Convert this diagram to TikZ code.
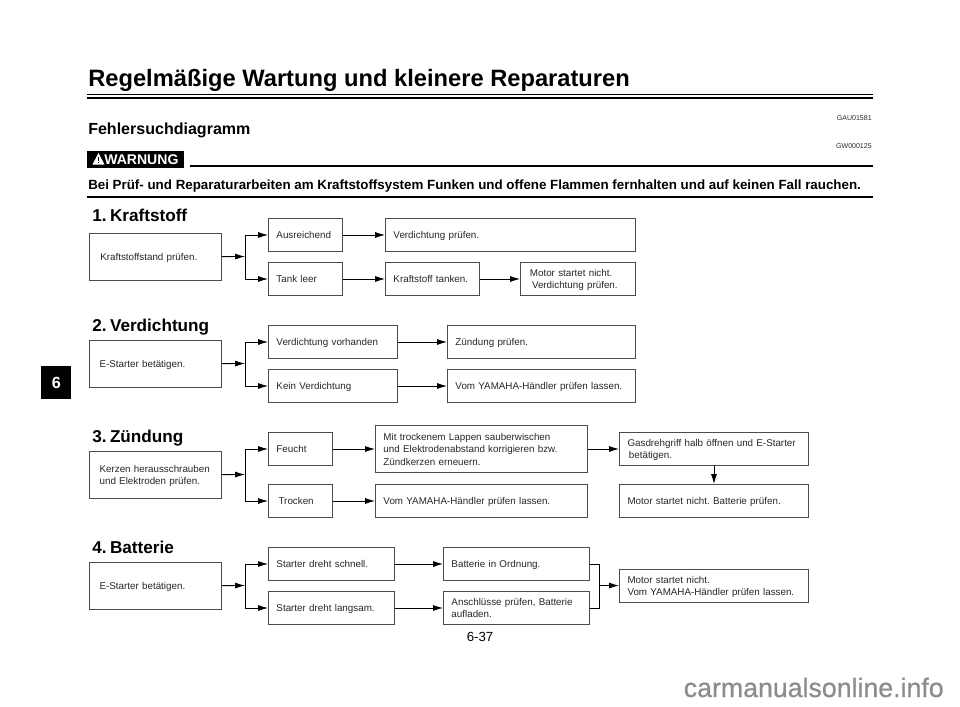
\documentclass[tikz,border=0pt]{standalone}
\usepackage{fontspec}
\setmainfont{Liberation Sans}
\newfontfamily\markfont[FakeBold=0.7]{Liberation Sans}
\usetikzlibrary{arrows.meta}
\definecolor{boxgray}{rgb}{0.3,0.3,0.3}
\definecolor{textgray}{rgb}{0.15,0.15,0.15}
\definecolor{markgray}{rgb}{0.55,0.55,0.55}
\newcommand{\boxfont}{\fontsize{6.98}{8.9}\selectfont\frenchspacing}
\tikzset{
  flowbox/.style 2 args={draw=boxgray,line width=0.7pt,anchor=north west,align=left,inner ysep=0pt,inner xsep=8*0.025cm,
    minimum height=#2*0.025cm,text width=#1*0.025cm-16*0.025cm,font=\boxfont,text=textgray,
    execute at begin node={\rule{0pt}{7.2pt}},execute at end node={\rule[-2.2pt]{0pt}{2.2pt}}},
  flowline/.style={line width=0.6pt,-{Latex[length=7pt,width=4.2pt]}},
  plainline/.style={line width=0.6pt},
  heading/.style={anchor=base west,inner sep=0pt,font=\bfseries\fontsize{12.2}{14}\selectfont},
  smallcode/.style={anchor=base east,inner sep=0pt,font=\fontsize{5}{6}\selectfont,text=textgray}
}
\begin{document}
\begin{tikzpicture}[line cap=butt,line join=miter,x=0.025cm,y=-0.025cm]
\useasboundingbox (0,0) rectangle (960,706);
\node (title) [anchor=base west,inner sep=0pt,font=\bfseries\fontsize{16.85}{18}\selectfont] at (88,86.5) {Regelmäßige Wartung und kleinere Reparaturen};
\coordinate (rulea) at (87,94);
\coordinate (ruleb) at (873,94);
\coordinate (rulec) at (87,98);
\coordinate (ruled) at (873,98);
\draw [line width=0.4pt] (rulea) -- (ruleb);
\draw [line width=1.1pt] (rulec) -- (ruled);
\node (sub) [anchor=base west,inner sep=0pt,font=\bfseries\fontsize{11.4}{13}\selectfont] at (88,134) {Fehlersuchdiagramm};
\node (gau) [smallcode] at (872,120) {GAU01581};
\node (gw) [smallcode] at (872,148.5) {GW000125};
\node (warnbox) [fill=black,anchor=north west,minimum width=97*0.025cm,minimum height=16.5*0.025cm,inner sep=0pt] at (87,151) {};
\fill [white] (98.5,153) -- (104.5,164.5) -- (92.5,164.5) -- cycle;
\fill [black] (98,157) rectangle (99,161);
\fill [black] (98,162) rectangle (99,163.3);
\node (warn) [anchor=base west,inner sep=0pt,text=white,font=\bfseries\fontsize{10}{10}\selectfont] at (104,164.3) {WARNUNG};
\coordinate (warna) at (190,166);
\coordinate (warnb) at (873,166);
\draw [line width=1pt] (warna) -- (warnb);
\node (warntext) [anchor=base west,inner sep=0pt,font=\bfseries\fontsize{9.49}{10}\selectfont] at (88,189) {Bei Prüf- und Reparaturarbeiten am Kraftstoffsystem Funken und offene Flammen fernhalten und auf keinen Fall rauchen.};
\coordinate (warnc) at (87,197);
\coordinate (warnd) at (873,197);
\draw [line width=1pt] (warnc) -- (warnd);
\node (tab) [fill=black,text=white,anchor=north west,minimum width=30*0.025cm,minimum height=33*0.025cm,inner sep=0pt,font=\bfseries\fontsize{11.5}{13}\selectfont] at (41,366) {6};

\node (head1) [heading] at (92,221.5) {1.\hspace{0.2em}Kraftstoff};
\node (kstand) [flowbox={132}{47}] at (89,233) {\hspace*{2pt}Kraftstoffstand prüfen.};
\node (ausr) [flowbox={74}{33}] at (268,218) {Ausreichend};
\node (leer) [flowbox={74}{33}] at (268,262) {Tank leer};
\node (vpruef) [flowbox={250}{33}] at (385,218) {Verdichtung prüfen.};
\node (tanken) [flowbox={94}{33}] at (385,262) {Kraftstoff tanken.};
\node (motora) [flowbox={115}{33}] at (520,262) {\hspace*{1pt}Motor startet nicht.\\\hspace*{2.5pt}Verdichtung prüfen.};
\coordinate (ja) at (245,256.5);
\draw [flowline] (kstand) -- (ja);
\draw [flowline] (ja) |- (ausr);
\draw [flowline] (ja) |- (leer);
\draw [flowline] (ausr) -- (vpruef);
\draw [flowline] (leer) -- (tanken);
\draw [flowline] (tanken) -- (motora);

\node (head2) [heading] at (92,331.5) {2.\hspace{0.2em}Verdichtung};
\node (estarta) [flowbox={132}{47}] at (89,340) {\hspace*{1.5pt}E-Starter betätigen.};
\node (vorh) [flowbox={129}{33}] at (268,325) {Verdichtung vorhanden};
\node (kein) [flowbox={129}{33}] at (268,369) {Kein Verdichtung};
\node (zuend) [flowbox={188}{33}] at (447,325) {Zündung prüfen.};
\node (yama) [flowbox={188}{33}] at (447,369) {Vom YAMAHA-Händler prüfen lassen.};
\coordinate (jb) at (245,363.5);
\draw [flowline] (estarta) -- (jb);
\draw [flowline] (jb) |- (vorh);
\draw [flowline] (jb) |- (kein);
\draw [flowline] (vorh) -- (zuend);
\draw [flowline] (kein) -- (yama);

\node (head3) [heading] at (92,442.5) {3.\hspace{0.2em}Zündung};
\node (kerzen) [flowbox={132}{47}] at (89,451) {\hspace*{1.5pt}Kerzen herausschrauben\\\hspace*{1.5pt}und Elektroden prüfen.};
\node (feucht) [flowbox={64}{33}] at (268,432) {Feucht};
\node (trocken) [flowbox={64}{33}] at (268,484) {\hspace*{1.5pt}Trocken};
\node (lappen) [flowbox={212}{47}] at (375,425) {Mit trockenem Lappen sauberwischen\\und Elektrodenabstand korrigieren bzw.\\Zündkerzen erneuern.};
\node (yamb) [flowbox={212}{33}] at (375,484) {Vom YAMAHA-Händler prüfen lassen.};
\node (gas) [flowbox={189}{33}] at (619,432) {Gasdrehgriff halb öffnen und E-Starter\\\hspace*{1pt}betätigen.};
\node (motorb) [flowbox={189}{33}] at (619,484) {Motor startet nicht. Batterie prüfen.};
\coordinate (jc) at (245,474.5);
\draw [flowline] (kerzen) -- (jc);
\draw [flowline] (jc) |- (feucht);
\draw [flowline] (jc) |- (trocken);
\draw [flowline] (feucht) -- (lappen);
\draw [flowline] (trocken) -- (yamb);
\draw [flowline] (lappen) -- (gas);
\draw [flowline] (gas) -- (motorb);

\node (head4) [heading] at (92,553.5) {4.\hspace{0.2em}Batterie};
\node (estartb) [flowbox={132}{47}] at (89,562) {\hspace*{1.5pt}E-Starter betätigen.};
\node (schnell) [flowbox={126}{33}] at (268,547) {Starter dreht schnell.};
\node (langsam) [flowbox={126}{33}] at (268,591) {Starter dreht langsam.};
\node (ordn) [flowbox={146}{33}] at (443,547) {Batterie in Ordnung.};
\node (anschl) [flowbox={146}{33}] at (443,591) {Anschlüsse prüfen, Batterie\\aufladen.};
\node (motorc) [flowbox={189}{33}] at (619,569) {Motor startet nicht.\\Vom YAMAHA-Händler prüfen lassen.};
\coordinate (jd) at (245,585.5);
\coordinate (je) at (599,585.5);
\draw [flowline] (estartb) -- (jd);
\draw [flowline] (jd) |- (schnell);
\draw [flowline] (jd) |- (langsam);
\draw [flowline] (schnell) -- (ordn);
\draw [flowline] (langsam) -- (anschl);
\draw [plainline] (ordn) -| (je);
\draw [plainline] (anschl) -| (je);
\draw [flowline] (je) -- (motorc);

\node (page) [anchor=base,inner sep=0pt,font=\fontsize{9.4}{11}\selectfont] at (480,641) {6-37};
\node (mark) [anchor=base east,inner sep=0pt,text=markgray,font=\markfont\fontsize{19}{21}\selectfont] at (944,697) {carmanualsonline.info};
\end{tikzpicture}
\end{document}
